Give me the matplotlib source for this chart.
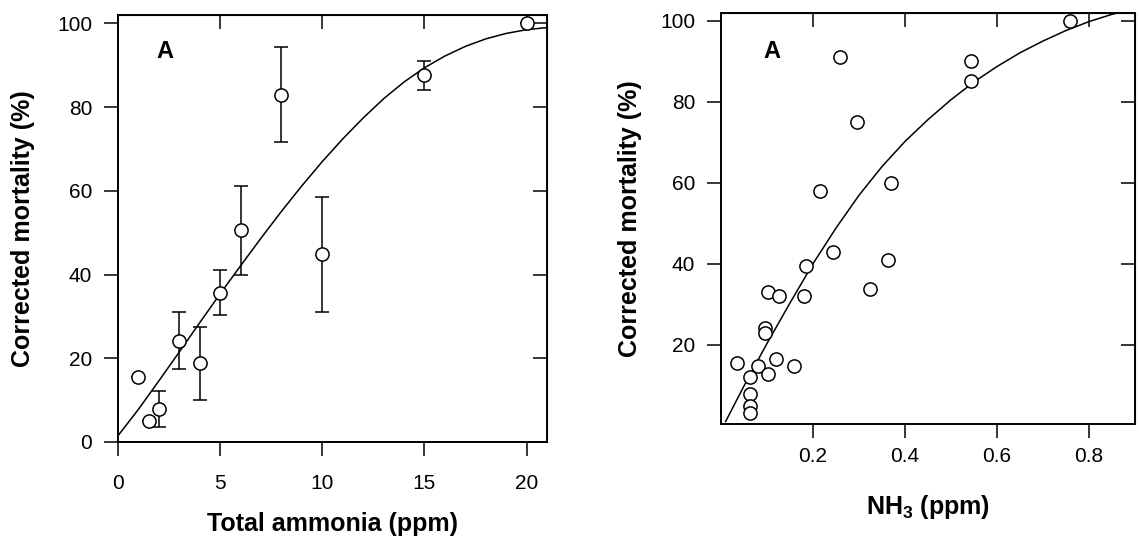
import matplotlib
matplotlib.use("Agg")
import matplotlib.pyplot as plt

plt.rcParams['font.family'] = ['Liberation Sans', 'DejaVu Sans']
plt.rcParams['mathtext.fontset'] = 'custom'
plt.rcParams['mathtext.rm'] = 'Liberation Sans'
plt.rcParams['mathtext.bf'] = 'Liberation Sans:bold'

# Panel 1: total ammonia, means with error bars
total_x = [1, 1.5, 2, 3, 4, 5, 6, 8, 10, 15, 20]
total_y = [15.5, 5.0, 7.8, 24.2, 18.8, 35.7, 50.6, 83.0, 45.0, 87.6, 100.0]
total_lo = [15.5, 5.0, 3.5, 17.4, 10.0, 30.3, 39.9, 71.7, 31.1, 84.0, 100.0]
total_hi = [15.5, 5.0, 12.2, 31.0, 27.5, 41.2, 61.2, 94.3, 58.5, 91.0, 100.0]

# fitted curve
fit1_x = [0, 1, 2, 3, 4, 5, 6, 7, 8, 9, 10, 11, 12, 13, 14, 15, 16, 17, 18, 19, 20, 21]
fit1_y = [1.5, 7.8, 14.6, 21.5, 28.5, 35.4, 42.1, 48.7, 55.1, 61.2, 67.0, 72.4,
          77.4, 82.0, 86.0, 89.4, 92.2, 94.5, 96.3, 97.6, 98.5, 99.0]

# Panel 2: un-ionized ammonia, individual tests
nh3_x = [0.034, 0.062, 0.062, 0.062, 0.062, 0.081, 0.102, 0.096, 0.096, 0.102,
         0.127, 0.120, 0.158, 0.180, 0.184, 0.216, 0.243, 0.258, 0.295, 0.325,
         0.362, 0.369, 0.543, 0.543, 0.759]
nh3_y = [15.4, 12.0, 7.8, 4.9, 3.2, 14.8, 12.8, 24.2, 22.8, 33.1,
         32.0, 16.5, 14.8, 32.0, 39.5, 58.0, 43.0, 91.0, 75.1, 33.7,
         41.0, 60.0, 90.1, 85.2, 100.0]

fit2_x = [0.01, 0.05, 0.1, 0.15, 0.2, 0.25, 0.3, 0.35, 0.4, 0.45, 0.5, 0.55,
          0.6, 0.65, 0.7, 0.75, 0.8, 0.85, 0.875]
fit2_y = [1.0, 9.8, 20.3, 30.3, 40.0, 48.8, 56.9, 64.0, 70.2, 75.6, 80.5, 84.9,
          88.7, 92.1, 95.0, 97.6, 99.8, 101.6, 102.3]

fig = plt.figure(figsize=(11.39, 5.40), dpi=100)
ax1 = fig.add_axes([0.1036, 0.1815, 0.3767, 0.7907])
ax2 = fig.add_axes([0.633, 0.2148, 0.3635, 0.7617])

marker_kw = dict(marker='o', ms=9.5, mfc='white', mec='black', mew=1.1, ls='none', zorder=4)


def style_axes(ax, xpad, ypad):
    for s in ax.spines.values():
        s.set_linewidth(1.4)
    ax.tick_params(axis='both', which='both', length=10, width=1.1, labelsize=15)
    ax.tick_params(axis='x', direction='out', pad=xpad)
    ax.tick_params(axis='y', direction='out', pad=ypad)
    sec_x = ax.secondary_xaxis('top')
    sec_x.set_xticks(ax.get_xticks())
    sec_x.tick_params(direction='in', length=10, width=1.1, labeltop=False)
    sec_y = ax.secondary_yaxis('right')
    sec_y.set_yticks(ax.get_yticks())
    sec_y.tick_params(direction='in', length=10, width=1.1, labelright=False)


# left panel
yerr = [[y - lo for y, lo in zip(total_y, total_lo)],
        [hi - y for y, hi in zip(total_y, total_hi)]]
ax1.plot(fit1_x, fit1_y, color='black', lw=1.1, zorder=2)
ax1.errorbar(total_x, total_y, yerr=yerr, fmt='none', ecolor='black',
             elinewidth=1.1, capsize=4.7, capthick=1.1, zorder=3)
ax1.plot(total_x, total_y, **marker_kw)
ax1.set_xlim(0, 21)
ax1.set_ylim(0, 102)
ax1.set_xticks([0, 5, 10, 15, 20])
ax1.set_yticks([0, 20, 40, 60, 80, 100])
style_axes(ax1, 13, 8.5)
ax1.set_xlabel('Total ammonia (ppm)', fontsize=18, fontweight='bold', va='top')
ax1.set_ylabel('Corrected mortality (%)', fontsize=18, fontweight='bold')
ax1.xaxis.set_label_coords(0.5, -0.164)
ax1.yaxis.set_label_coords(-0.1935, 0.5)
ax1.text(0.11, 0.915, 'A', transform=ax1.transAxes, fontsize=17,
         fontweight='bold', ha='center', va='center')

# right panel
ax2.plot(fit2_x, fit2_y, color='black', lw=1.1, zorder=2, clip_on=True)
ax2.plot(nh3_x, nh3_y, **marker_kw)
ax2.set_xlim(0, 0.9)
ax2.set_ylim(0.4, 102)
ax2.set_xticks([0.2, 0.4, 0.6, 0.8])
ax2.set_yticks([20, 40, 60, 80, 100])
style_axes(ax2, 6.5, 8.5)
ax2.set_xlabel(r'NH$_\mathbf{3}$ (ppm)', fontsize=18, fontweight='bold', va='top')
ax2.set_ylabel('Corrected mortality (%)', fontsize=18, fontweight='bold')
ax2.xaxis.set_label_coords(0.5, -0.168)
ax2.yaxis.set_label_coords(-0.1915, 0.5)
ax2.text(0.122, 0.906, 'A', transform=ax2.transAxes, fontsize=17,
         fontweight='bold', ha='center', va='center')

plt.savefig('out.png', dpi=100)
